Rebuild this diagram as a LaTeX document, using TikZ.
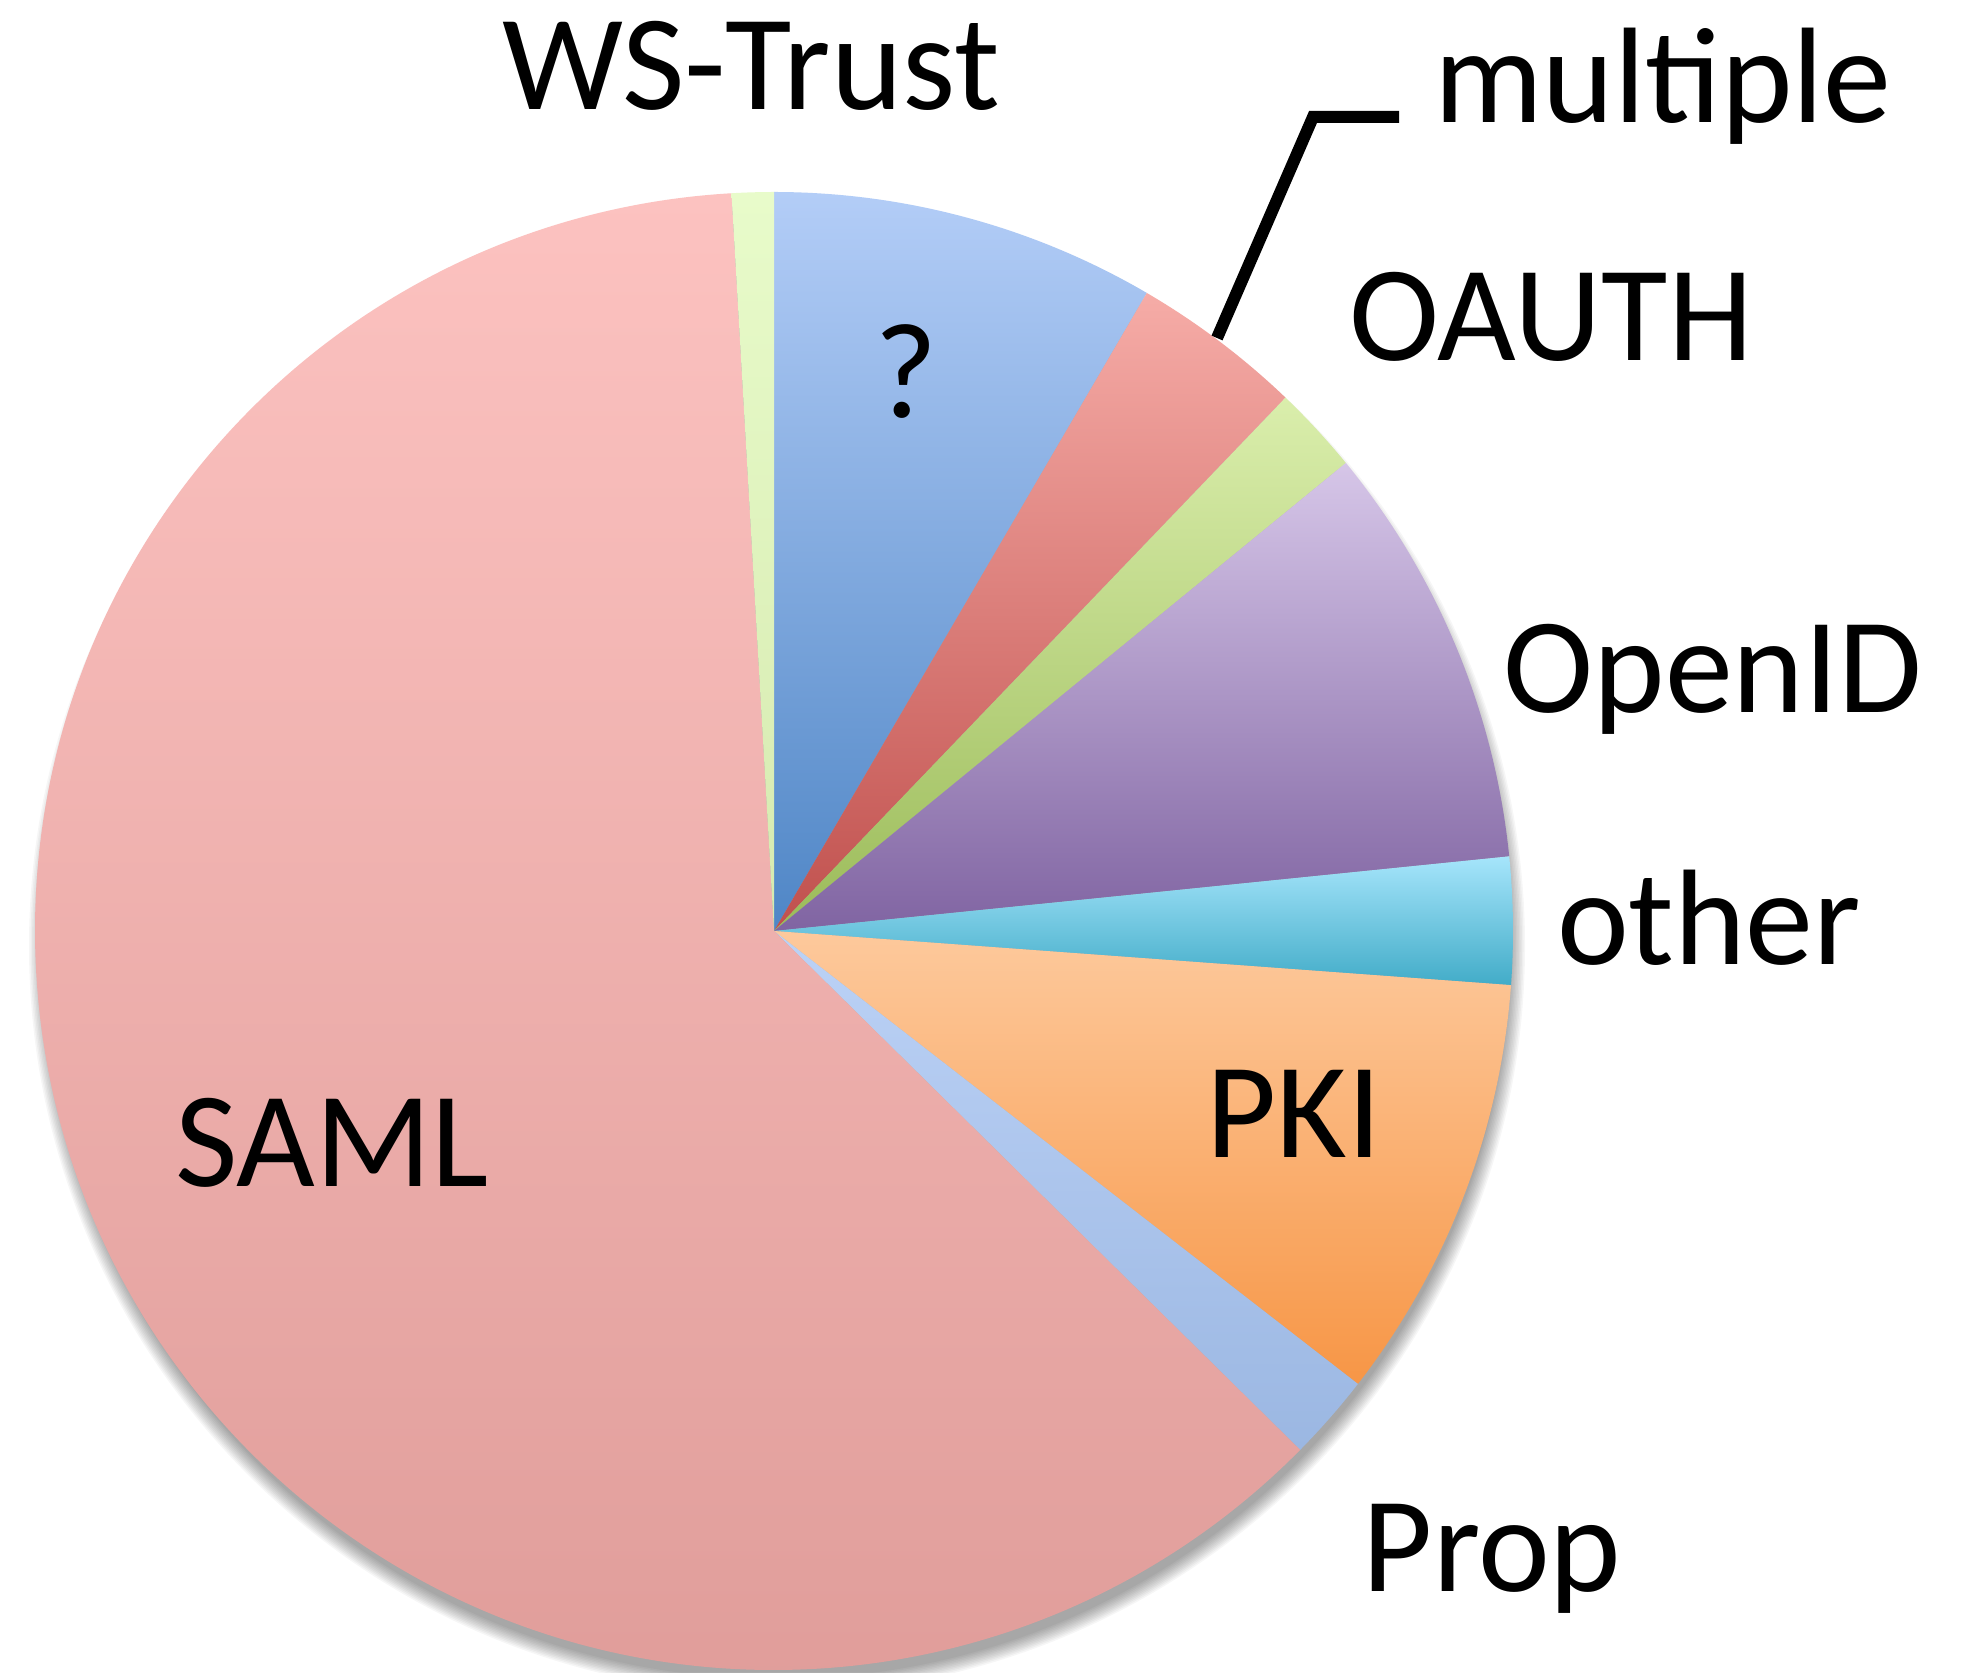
\documentclass[tikz,border=0pt]{standalone}
\usepackage{fontspec}
\setmainfont{Carlito}
\begin{document}
\begin{tikzpicture}[x=0.5pt,y=0.5pt,
  lbl/.style={anchor=base,inner sep=0pt,font=\fontsize{68}{80}\selectfont},
  leader/.style={line width=6pt,black}]
\useasboundingbox (0,0) rectangle (1968,1672);
\fill[white] (0,0) rectangle (1968,1672);
\def\R{739}
\coordinate (c) at (774,741);
% shadow (offset downwards)
\foreach \r in {0,1.5,...,15}
  \fill[black,opacity=0.035] (777,726) circle[radius={748-\r}];
% slices
\newcommand{\slice}[4]{%
  \shade[top color=#3,bottom color=#4] (c) -- ++(#1:\R) arc[start angle=#1,end angle=#2,radius=\R] -- cycle;}
\definecolor{qT}{RGB}{179,205,247}\definecolor{qB}{RGB}{79,134,198}
\definecolor{rT}{RGB}{246,172,167}\definecolor{rB}{RGB}{192,80,77}
\definecolor{gT}{RGB}{218,238,172}\definecolor{gB}{RGB}{155,187,89}
\definecolor{pT}{RGB}{214,198,232}\definecolor{pB}{RGB}{128,100,162}
\definecolor{cT}{RGB}{166,229,251}\definecolor{cB}{RGB}{66,172,200}
\definecolor{oT}{RGB}{253,201,156}\definecolor{oB}{RGB}{247,150,70}
\definecolor{bT}{RGB}{188,210,246}\definecolor{bB}{RGB}{155,183,226}
\definecolor{sT}{RGB}{252,194,192}\definecolor{sB}{RGB}{224,157,154}
\definecolor{wT}{RGB}{232,251,202}\definecolor{wB}{RGB}{214,234,176}
\slice{59.7}{90}{qT}{qB}
\slice{46.2}{59.7}{rT}{rB}
\slice{39.3}{46.2}{gT}{gB}
\slice{5.8}{39.3}{pT}{pB}
\slice{-4.2}{5.8}{cT}{cB}
\slice{-37.8}{-4.2}{oT}{oB}
\slice{-44.6}{-37.8}{bT}{bB}
\slice{93.3}{315.4}{sT}{sB}
\slice{90}{93.3}{wT}{wB}
% labels
\node[lbl] (ws) at (751,1562) {WS-Trust};
\node[lbl] (mult) at (1663,1549) {multiple};
\node[lbl] (oauth) at (1551,1311) {OAUTH};
\node[lbl] (openid) at (1713,959) {OpenID};
\node[lbl] (other) at (1709,708) {other};
\node[lbl] (pki) at (1294,515) {PKI};
\node[lbl] (saml) at (332,486) {SAML};
\node[lbl] (prop) at (1492,81) {Prop};
\node[lbl] (q) at (906,1254) {?};
% leader line
\coordinate (ls) at (1217,1334);
\coordinate (lk) at (1313,1555);
\coordinate (le) at (1399,1555);
\draw[leader] (ls) -- (lk) -- (le);
\end{tikzpicture}
\end{document}
